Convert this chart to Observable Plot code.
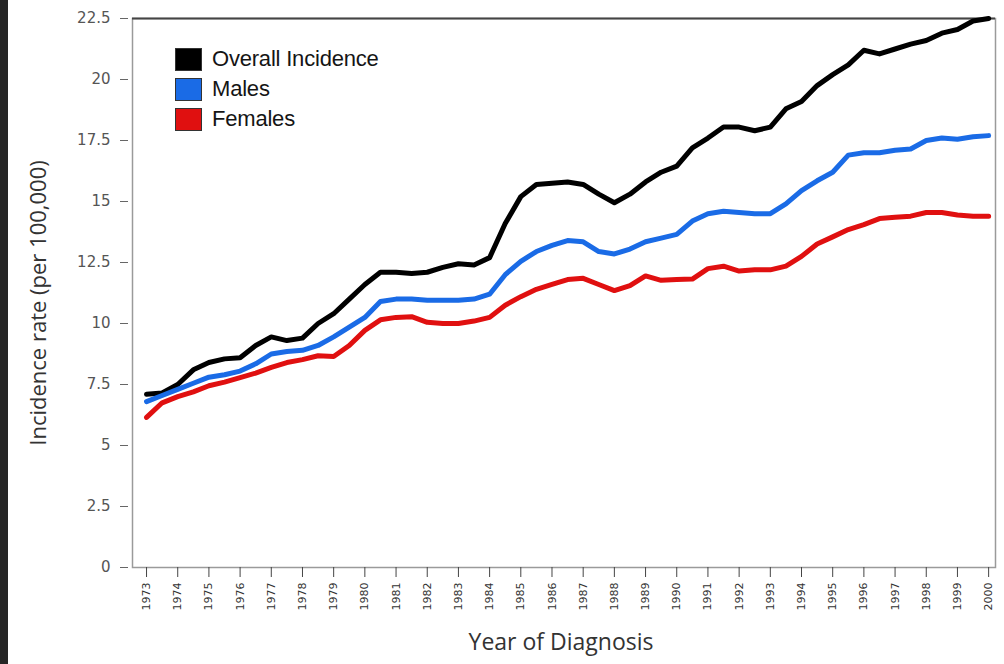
<!DOCTYPE html>
<html>
<head>
<meta charset="utf-8">
<script src="https://cdn.jsdelivr.net/npm/d3@7"></script>
<script src="https://cdn.jsdelivr.net/npm/@observablehq/plot@0.6"></script>
<style>
  html, body { margin: 0; padding: 0; background: #fff; }
  #wrap { position: relative; width: 1004px; height: 664px; overflow: hidden; background: #fff; }
  #strip { position: absolute; left: 0; top: 0; width: 8px; height: 664px; background: #262626; }
  .leg { position: absolute; left: 175px; display: flex; align-items: center; font-family: "Liberation Sans", Arial, sans-serif; font-size: 22px; color: #151515; letter-spacing: -0.2px; }
  .sw { width: 25px; height: 21px; border: 1px solid #333; margin-right: 10px; }
</style>
</head>
<body>
<div id="wrap"><div id="strip"></div></div>
<script>
const years = [1973,1973.5,1974,1974.5,1975,1975.5,1976,1976.5,1977,1977.5,
  1978,1978.5,1979,1979.5,1980,1980.5,1981,1981.5,1982,1982.5,
  1983,1983.5,1984,1984.5,1985,1985.5,1986,1986.5,1987,1987.5,
  1988,1988.5,1989,1989.5,1990,1990.5,1991,1991.5,1992,1992.5,
  1993,1993.5,1994,1994.5,1995,1995.5,1996,1996.5,1997,1997.5,
  1998,1998.5,1999,1999.5,2000];

const overall = [7.1,7.15,7.5,8.1,8.4,8.55,8.6,9.1,9.45,9.3,
  9.4,10.0,10.4,11.0,11.6,12.1,12.1,12.05,12.1,12.3,
  12.45,12.4,12.7,14.1,15.2,15.7,15.75,15.8,15.7,15.3,
  14.95,15.3,15.8,16.2,16.45,17.2,17.6,18.05,18.05,17.9,
  18.05,18.8,19.1,19.75,20.2,20.6,21.2,21.05,21.25,21.45,
  21.6,21.9,22.05,22.4,22.5];

const males = [6.8,7.05,7.3,7.55,7.8,7.9,8.05,8.35,8.75,8.85,
  8.9,9.1,9.45,9.85,10.25,10.9,11.0,11.0,10.95,10.95,
  10.95,11.0,11.2,12.0,12.55,12.95,13.2,13.4,13.35,12.95,
  12.85,13.05,13.35,13.5,13.65,14.2,14.5,14.6,14.55,14.5,
  14.5,14.9,15.45,15.85,16.2,16.9,17.0,17.0,17.1,17.15,
  17.5,17.6,17.55,17.65,17.7];

const females = [6.15,6.75,7.0,7.2,7.45,7.6,7.78,7.97,8.2,8.4,
  8.52,8.68,8.65,9.1,9.72,10.15,10.25,10.28,10.05,10.0,
  10.0,10.1,10.25,10.75,11.1,11.4,11.6,11.8,11.85,11.6,
  11.35,11.55,11.95,11.77,11.8,11.82,12.25,12.35,12.15,12.2,
  12.2,12.35,12.75,13.26,13.55,13.85,14.05,14.3,14.35,14.4,
  14.55,14.55,14.45,14.4,14.4];

const seriesNames = ["Overall Incidence", "Males", "Females"];
const seriesColors = ["#000000", "#1a6be6", "#e01010"];
const yTicks = [0, 2.5, 5, 7.5, 10, 12.5, 15, 17.5, 20, 22.5];
const xTicks = [1973,1974,1975,1976,1977,1978,1979,1980,1981,1982,1983,1984,1985,1986,
  1987,1988,1989,1990,1991,1992,1993,1994,1995,1996,1997,1998,1999,2000];
const yTitle = "Incidence rate (per 100,000)";
const xTitle = "Year of Diagnosis";

const seriesValues = [overall, males, females];
const rows = [];
seriesNames.forEach((name, i) => {
  years.forEach((yr, j) => rows.push({series: name, year: yr, value: seriesValues[i][j]}));
});
const drawOrder = ["Overall Incidence", "Females", "Males"];

const chart = Plot.plot({
  width: 1004,
  height: 664,
  marginLeft: 132,
  marginRight: 9,
  marginTop: 18,
  marginBottom: 97,
  x: { domain: [1972.55, 2000.22] },
  y: { domain: [0, 22.5] },
  marks: [
    Plot.frame({ stroke: "#9a9a9a", strokeWidth: 1.5 }),
    Plot.ruleY([22.5], { stroke: "#444", strokeWidth: 2 }),
    Plot.axisY({
      ticks: yTicks, tickFormat: d => String(d), tickSize: 8, tickPadding: 10, dx: -4,
      fontSize: 15, fontFamily: "DejaVu Sans", fill: "#555", stroke: "#666", label: null
    }),
    Plot.axisX({
      ticks: xTicks, tickFormat: d => String(d), tickSize: 10, tickPadding: 5, tickRotate: -90,
      fontSize: 11, fontFamily: "DejaVu Sans", fill: "#333", stroke: "#444", label: null
    }),
    ...drawOrder.map(name => Plot.line(rows.filter(r => r.series === name), {
      x: "year", y: "value",
      stroke: seriesColors[seriesNames.indexOf(name)],
      strokeWidth: 5, strokeLinejoin: "round", strokeLinecap: "round"
    })),
    Plot.text([yTitle], {
      frameAnchor: "left", textAnchor: "middle", rotate: -90, dx: -94, dy: 10,
      fontSize: 22, fontFamily: "Open Sans", fill: "#333"
    }),
    Plot.text([xTitle], {
      frameAnchor: "bottom", dy: 82, dx: -3,
      fontSize: 23, fontFamily: "Open Sans", fill: "#333"
    })
  ]
});

const wrap = document.getElementById("wrap");
wrap.appendChild(chart);

seriesNames.forEach((name, i) => {
  const row = document.createElement("div");
  row.className = "leg";
  row.style.top = (46 + i * 30) + "px";
  const sw = document.createElement("div");
  sw.className = "sw";
  sw.style.background = seriesColors[i];
  const t = document.createElement("span");
  t.textContent = name;
  row.appendChild(sw);
  row.appendChild(t);
  wrap.appendChild(row);
});
</script>
</body>
</html>
